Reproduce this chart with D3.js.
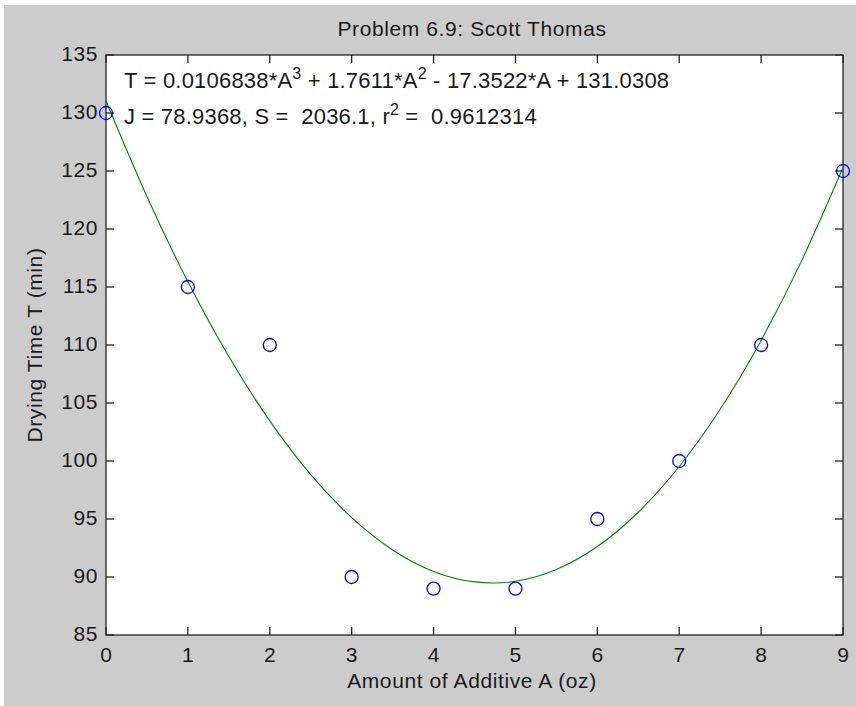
<!DOCTYPE html>
<html><head><meta charset="utf-8">
<script src="https://cdn.jsdelivr.net/npm/d3@7"></script>
<style>html,body{margin:0;padding:0;background:#fff;}svg{display:block;}</style>
</head><body>
<svg id="c" width="856" height="706"></svg>
<script>
const additive = [0,1,2,3,4,5,6,7,8,9];
const dryingTime = [130,115,110,90,89,89,95,100,110,125];
const fitA = [0,0.5,1,1.5,2,2.5,3,3.5,4,4.5,5,5.5,6,6.5,7,7.5,8,8.5,9];
const fitT = [131.031,122.796,115.450,109.001,103.456,98.824,95.113,92.330,90.483,89.582,89.633,90.644,92.625,95.582,99.524,104.458,110.394,117.338,125.299];
const xTicks = [0,1,2,3,4,5,6,7,8,9];
const yTicks = [85,90,95,100,105,110,115,120,125,130,135];
const titleText = "Problem 6.9: Scott Thomas";
const xLabel = "Amount of Additive A (oz)";
const yLabel = "Drying Time T (min)";

const svg = d3.select("#c");
const font = "Arial, 'Liberation Sans', sans-serif";
svg.append("rect").attr("x",4).attr("y",5).attr("width",852).attr("height",701).attr("fill","#cccccc");

const L=106,R=843,T=55,B=635;
const x = d3.scaleLinear().domain([0,9]).range([L,R]);
const y = d3.scaleLinear().domain([85,135]).range([B,T]);

svg.append("rect").attr("x",L).attr("y",T).attr("width",R-L).attr("height",B-T).attr("fill","#fff");

// axes with inward ticks
const tl = 8;
const ax = svg.append("g").attr("stroke","#262626").attr("stroke-width",1.3).attr("fill","none");
ax.append("rect").attr("x",L).attr("y",T).attr("width",R-L).attr("height",B-T);
xTicks.forEach(v=>{
  ax.append("line").attr("x1",x(v)).attr("x2",x(v)).attr("y1",B).attr("y2",B-tl);
  ax.append("line").attr("x1",x(v)).attr("x2",x(v)).attr("y1",T).attr("y2",T+tl);
});
yTicks.forEach(v=>{
  ax.append("line").attr("x1",L).attr("x2",L+tl).attr("y1",y(v)).attr("y2",y(v));
  ax.append("line").attr("x1",R).attr("x2",R-tl).attr("y1",y(v)).attr("y2",y(v));
});

const fs = 21, ls = "0.6px";
svg.append("g").selectAll("text").data(xTicks).join("text")
  .attr("x",d=>x(d)).attr("y",B+27).attr("text-anchor","middle")
  .attr("font-family",font).attr("font-size",fs).attr("fill","#1a1a1a").text(d=>d);
svg.append("g").selectAll("text").data(yTicks).join("text")
  .attr("x",L-8).attr("y",d=>y(d)+6).attr("text-anchor","end").attr("letter-spacing",ls)
  .attr("font-family",font).attr("font-size",fs).attr("fill","#1a1a1a").text(d=>d);

svg.append("text").attr("x",472).attr("y",36).attr("text-anchor","middle").attr("letter-spacing",ls)
  .attr("font-family",font).attr("font-size",fs).attr("fill","#1a1a1a").text(titleText);
svg.append("text").attr("x",472).attr("y",688).attr("text-anchor","middle").attr("letter-spacing",ls)
  .attr("font-family",font).attr("font-size",fs).attr("fill","#1a1a1a").text(xLabel);
svg.append("text").attr("transform",`translate(42,${(T+B)/2}) rotate(-90)`).attr("text-anchor","middle").attr("letter-spacing",ls)
  .attr("font-family",font).attr("font-size",fs).attr("fill","#1a1a1a").text(yLabel);

// fitted curve
const line = d3.line().x((d,i)=>x(fitA[i])).y(d=>y(d)).curve(d3.curveNatural);
svg.append("path").datum(fitT).attr("d",line).attr("fill","none").attr("stroke","#008000").attr("stroke-width",1.1);

// data points
svg.append("g").selectAll("circle").data(dryingTime).join("circle")
  .attr("cx",(d,i)=>x(additive[i])).attr("cy",d=>y(d)).attr("r",6.5)
  .attr("fill","none").attr("stroke","#0000ff").attr("stroke-width",1.3);

// annotation
const ann = svg.append("g").attr("font-family",font).attr("font-size",22).attr("letter-spacing","0.2px").attr("fill","#1a1a1a");
const t1 = ann.append("text").attr("x",124).attr("y",88);
t1.append("tspan").text("T = 0.0106838*A");
t1.append("tspan").attr("dy",-9).attr("font-size",16).text("3");
t1.append("tspan").attr("dy",9).text(" + 1.7611*A");
t1.append("tspan").attr("dy",-9).attr("font-size",16).text("2");
t1.append("tspan").attr("dy",9).text(" - 17.3522*A + 131.0308");
const t2 = ann.append("text").attr("x",124).attr("y",124).attr("xml:space","preserve");
t2.append("tspan").text("J = 78.9368, S =  2036.1, r");
t2.append("tspan").attr("dy",-9).attr("font-size",16).text("2");
t2.append("tspan").attr("dy",9).text(" =  0.9612314");
</script>
</body></html>
